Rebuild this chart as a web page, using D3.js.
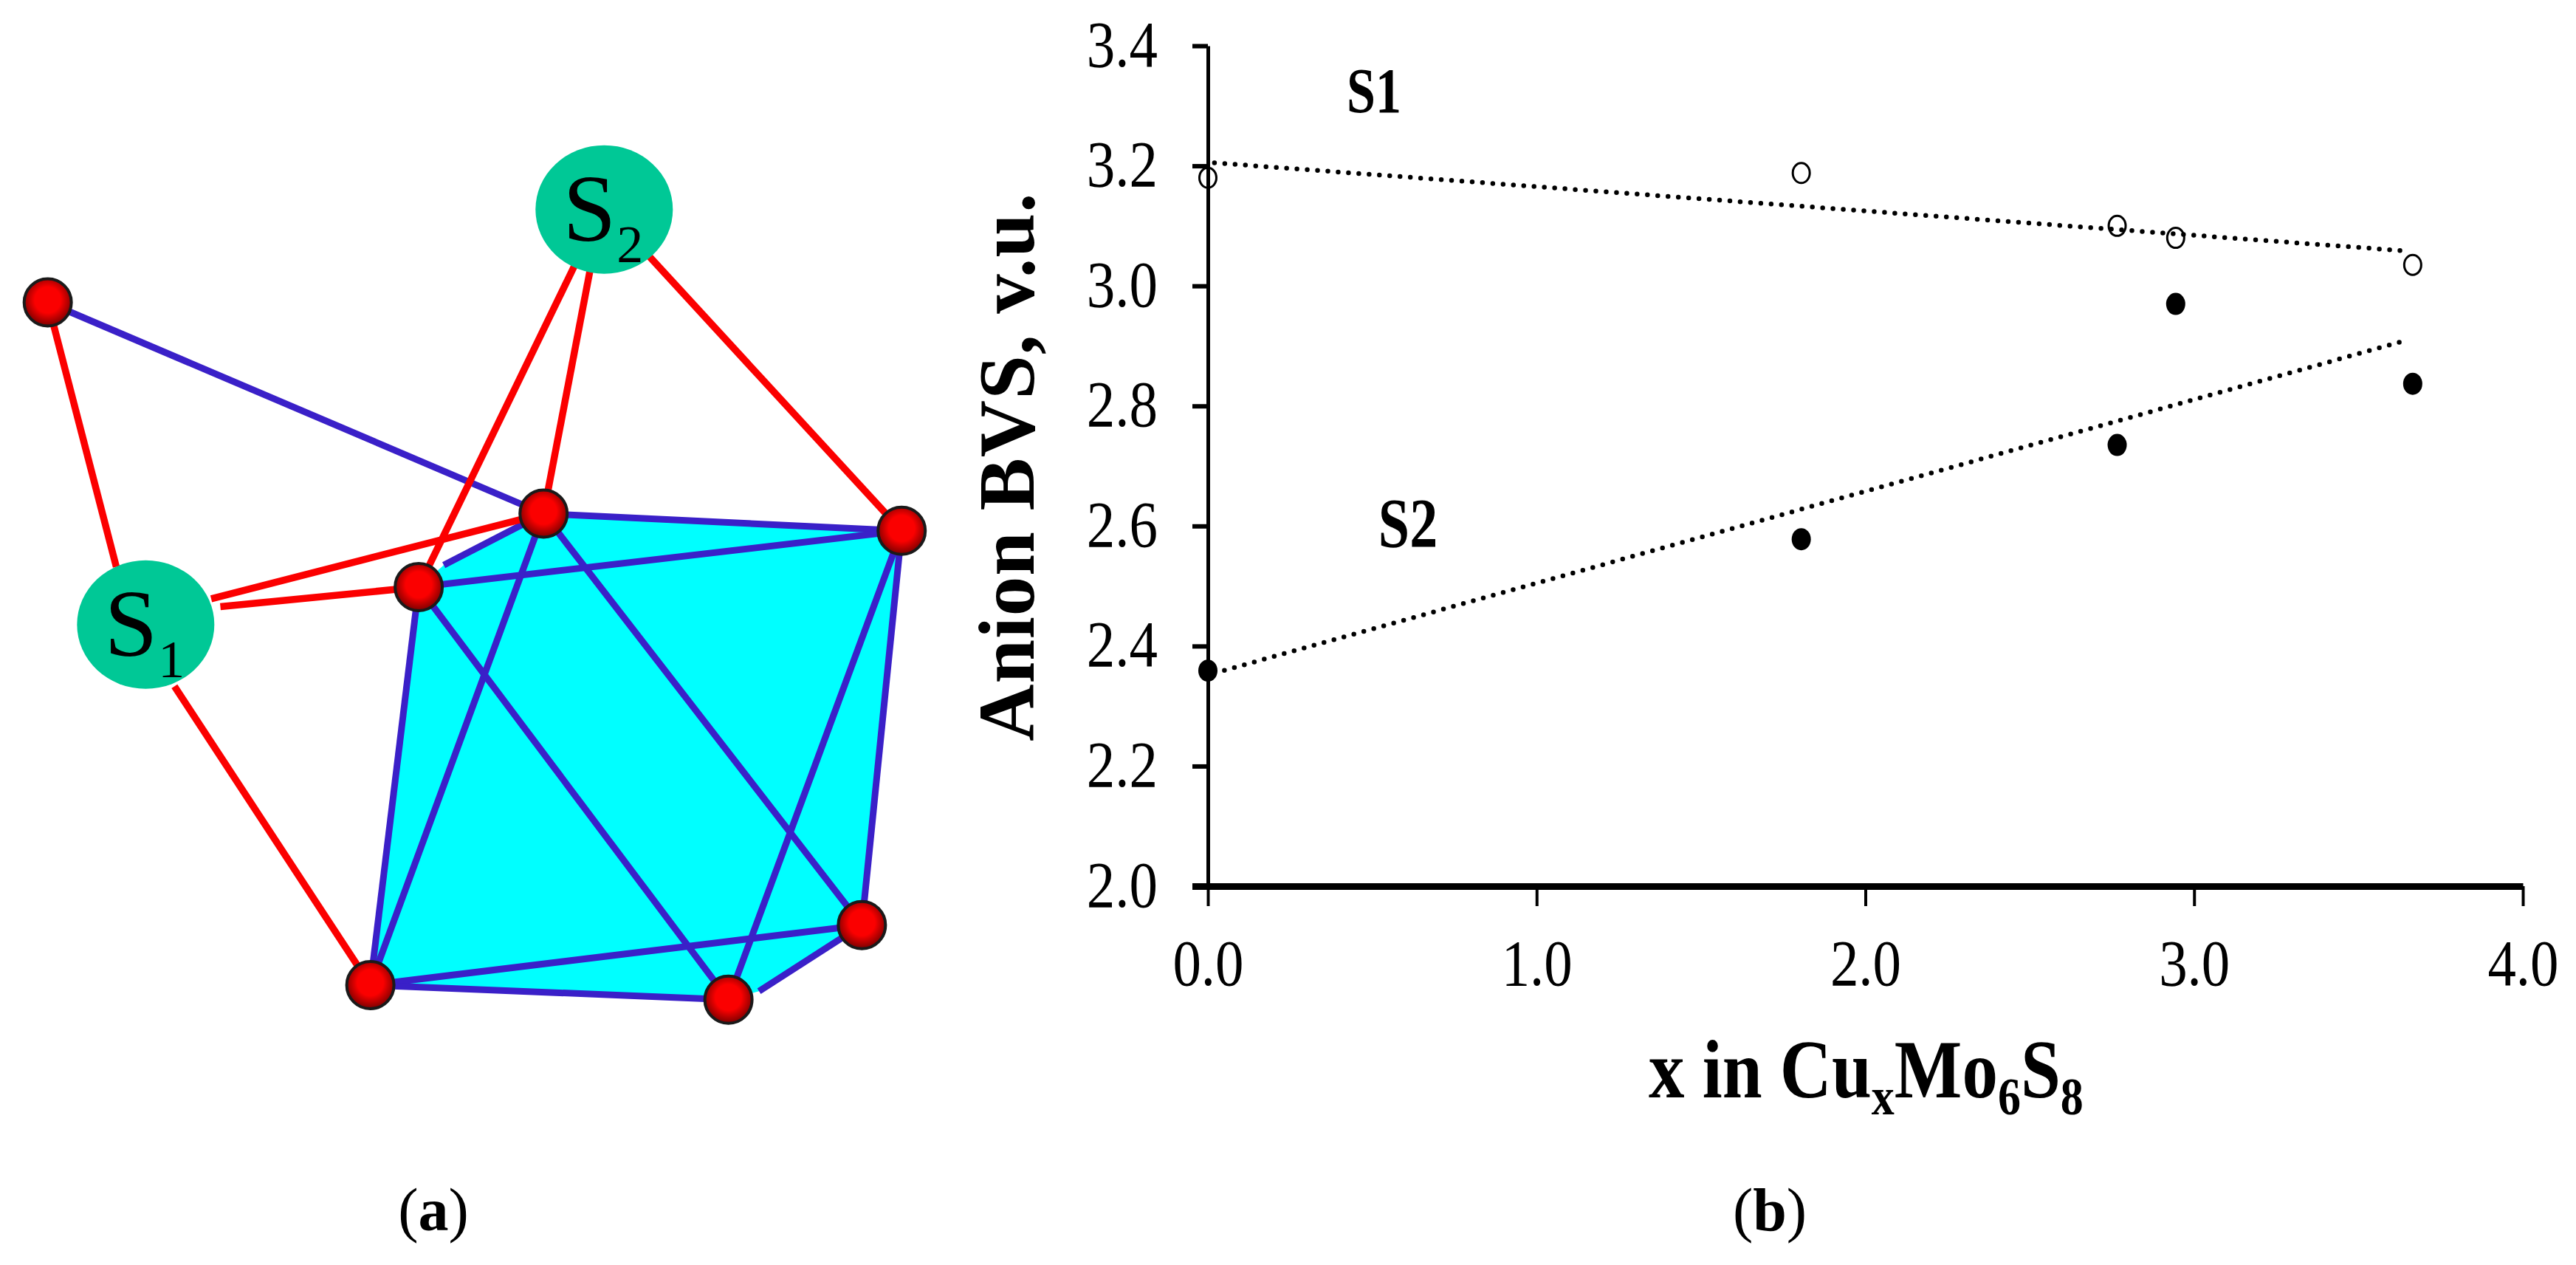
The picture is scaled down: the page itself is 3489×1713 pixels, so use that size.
<!DOCTYPE html>
<html><head><meta charset="utf-8">
<script src="https://cdn.jsdelivr.net/npm/d3@7/dist/d3.min.js"></script>
<style>html,body{margin:0;background:#fff}svg{display:block}text{font-family:"Liberation Serif",serif;fill:#000}</style>
</head><body>
<svg id="c" width="3489" height="1713"></svg>
<script>
// Panel (b) data
const xTicks=[0,1,2,3,4];
const yTicks=[2.0,2.2,2.4,2.6,2.8,3.0,3.2,3.4];
const xValues=[0,1.805,2.766,2.944,3.665];
const s1Values=[3.18,3.188,3.10,3.08,3.035];
const s2Values=[2.359,2.578,2.735,2.97,2.837];
const s1Trend=[[0.02,3.205],[3.65,3.058]];
const s2Trend=[[0.02,2.355],[3.65,2.91]];
// Panel (a) diagram, in its own drawing units
const cage=[[888,658],[1473,686],[1408,1330],[1240,1438],[1190,1452],[605,1428],[684,778],[725,742]];
const atoms=[[78,313],[888,658],[684,778],[1473,686],[1408,1330],[1190,1452],[605,1428]];
const blueBonds=[[[78,313],[888,658]],[[888,658],[1473,686]],[[684,778],[1473,686]],[[725,742],[888,658]],[[684,778],[605,1428]],[[888,658],[605,1428]],[[888,658],[1408,1330]],[[684,778],[1190,1452]],[[1473,686],[1408,1330]],[[1473,686],[1190,1452]],[[605,1428],[1408,1330]],[[605,1428],[1190,1452]],[[1240,1438],[1408,1330]]];
const redBonds=[[[78,313],[190,745]],[[345,797],[888,658]],[[360,810],[684,778]],[[285,940],[605,1428]],[[940,250],[684,778]],[[965,255],[888,658]],[[1058,235],[1473,686]]];
const anions=[{n:"S",s:"1",c:[238,838]},{n:"S",s:"2",c:[987,160]}];

const svg=d3.select("#c");
const defs=svg.append("defs");
const g=defs.append("radialGradient").attr("id","atom").attr("cx","50%").attr("cy","45%").attr("r","55%");
g.append("stop").attr("offset","50%").attr("stop-color","#fb0000");
g.append("stop").attr("offset","100%").attr("stop-color","#7a0000");

// Panel (a)
const dx=d3.scaleLinear().domain([0,1568]).range([0,1300]);
const dy=d3.scaleLinear().domain([0,1568]).range([150,1450]);
const pa=svg.append("g");
pa.append("path").attr("d",d3.line().x(d=>dx(d[0])).y(d=>dy(d[1])).curve(d3.curveLinearClosed)(cage)).attr("fill","#00ffff");
const seg=(sel,data,col,w)=>sel.selectAll(null).data(data).join("line")
 .attr("x1",d=>dx(d[0][0])).attr("y1",d=>dy(d[0][1])).attr("x2",d=>dx(d[1][0])).attr("y2",d=>dy(d[1][1]))
 .attr("stroke",col).attr("stroke-width",w);
seg(pa,blueBonds,"#3a20c8",9);
seg(pa,redBonds,"#fb0000",9.5);
pa.selectAll("ellipse.an").data(anions).join("ellipse").attr("class","an")
 .attr("cx",d=>dx(d.c[0])).attr("cy",d=>dy(d.c[1])+1).attr("rx",93).attr("ry",87).attr("fill","#00c896");
pa.selectAll("circle").data(atoms).join("circle").attr("cx",d=>dx(d[0])).attr("cy",d=>dy(d[1])).attr("r",32)
 .attr("fill","url(#atom)").attr("stroke","#1a1a1a").attr("stroke-width",4);
pa.selectAll("text.n").data(anions).join("text").attr("class","n")
 .attr("x",d=>dx(d.c[0])-20).attr("y",d=>dy(d.c[1])+43).attr("text-anchor","middle").attr("font-size",130).text(d=>d.n);
pa.selectAll("text.s").data(anions).join("text").attr("class","s")
 .attr("x",d=>dx(d.c[0])+35).attr("y",d=>dy(d.c[1])+72).attr("text-anchor","middle").attr("font-size",72).text(d=>d.s);
pa.append("text").attr("x",587).attr("y",1666).attr("text-anchor","middle").attr("font-size",82)
 .html('(<tspan font-weight="bold">a</tspan>)');

// Panel (b)
const x=d3.scaleLinear().domain([0,4]).range([1636,3417]);
const y=d3.scaleLinear().domain([2,3.4]).range([1200,62]);
const ax=svg.append("g").attr("transform","translate(1636,0)").call(d3.axisLeft(y).tickValues(yTicks).tickSize(21).tickSizeOuter(0).tickFormat(d3.format(".1f")));
ax.select(".domain").attr("stroke","#000").attr("stroke-width",5);
ax.selectAll(".tick line").attr("stroke","#000").attr("stroke-width",d=>d===2?9:6);
ax.selectAll(".tick text").attr("x",0).attr("y",0).attr("dy",0).attr("text-anchor","end")
 .attr("transform","translate(-68,27) scale(1,1.15)").attr("font-size",77).style("font-family",'"Liberation Serif",serif');
const bx=svg.append("g").attr("transform","translate(0,1200)").call(d3.axisBottom(x).tickValues(xTicks).tickSize(27).tickSizeOuter(0).tickFormat(d3.format(".1f")));
bx.select(".domain").attr("stroke","#000").attr("stroke-width",9);
bx.selectAll(".tick line").attr("stroke","#000").attr("stroke-width",4);
bx.selectAll(".tick text").attr("x",0).attr("y",0).attr("dy",0).attr("text-anchor","middle")
 .attr("transform","translate(0,134) scale(1,1.15)").attr("font-size",77).style("font-family",'"Liberation Serif",serif');

const ln=d3.line().x(d=>x(d[0])).y(d=>y(d[1]));
[s1Trend,s2Trend].forEach(t=>svg.append("path").attr("d",ln(t)).attr("fill","none").attr("stroke","#000")
 .attr("stroke-width",6.5).attr("stroke-linecap","round").attr("stroke-dasharray","0 14"));
svg.selectAll("ellipse.o").data(xValues.map((v,i)=>[v,s1Values[i]])).join("ellipse").attr("class","o")
 .attr("cx",d=>x(d[0])).attr("cy",d=>y(d[1])).attr("rx",11.5).attr("ry",13.5).attr("fill","none").attr("stroke","#000").attr("stroke-width",3);
svg.selectAll("ellipse.f").data(xValues.map((v,i)=>[v,s2Values[i]])).join("ellipse").attr("class","f")
 .attr("cx",d=>x(d[0])).attr("cy",d=>y(d[1])).attr("rx",13).attr("ry",15).attr("fill","#000");

svg.append("text").attr("transform","translate(1861,152) scale(1,1.25)").attr("text-anchor","middle").attr("font-weight","bold").attr("font-size",70).text("S1");
svg.append("text").attr("transform","translate(1907,741) scale(1,1.25)").attr("text-anchor","middle").attr("font-weight","bold").attr("font-size",76).text("S2");
svg.append("text").attr("transform","translate(1400,632) rotate(-90)").attr("text-anchor","middle").attr("font-weight","bold").attr("font-size",107).attr("letter-spacing",1).text("Anion BVS, v.u.");
svg.append("text").attr("transform","translate(2233,1486) scale(1,1.15)").attr("font-weight","bold").attr("font-size",97)
 .html('x in Cu<tspan dy="20" font-size="62">x</tspan><tspan dy="-20">Mo</tspan><tspan dy="20" font-size="62">6</tspan><tspan dy="-20">S</tspan><tspan dy="20" font-size="62">8</tspan>');
svg.append("text").attr("x",2397).attr("y",1666).attr("text-anchor","middle").attr("font-size",82)
 .html('(<tspan font-weight="bold">b</tspan>)');
</script>
</body></html>
